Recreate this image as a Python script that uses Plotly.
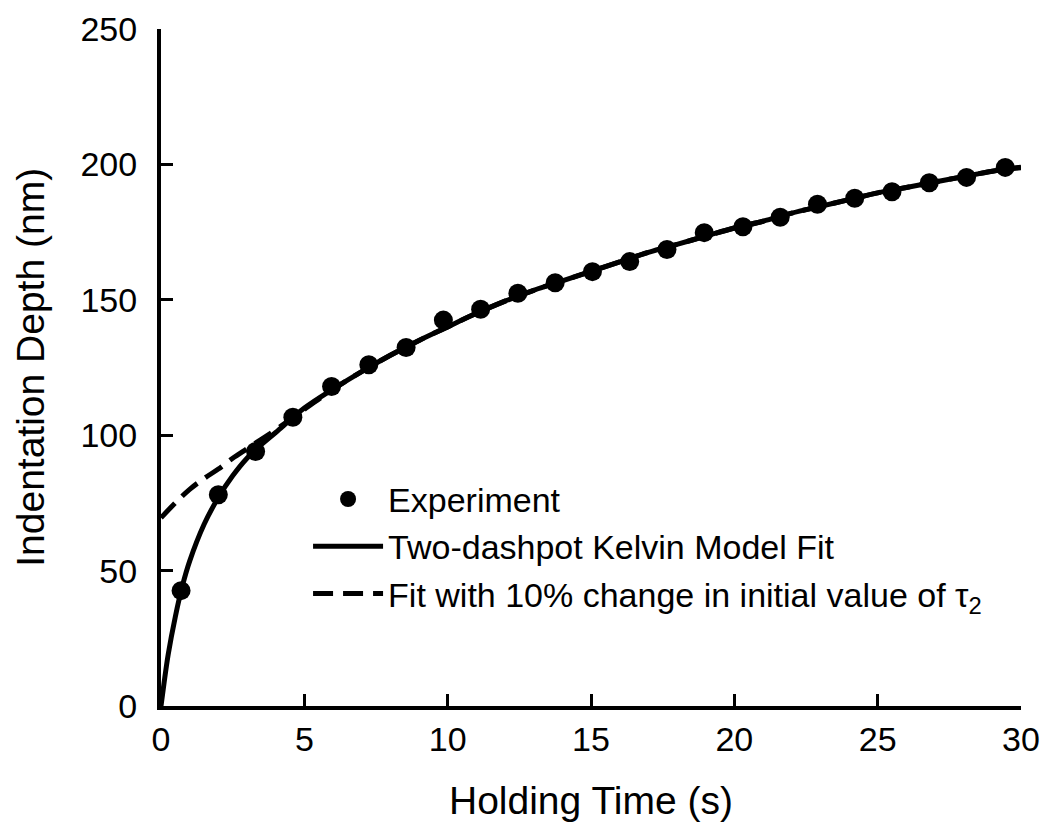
import plotly.graph_objects as go

# Experimental data (holding time s, indentation depth nm)
exp_t = [0.7, 2.0, 3.3, 4.6, 5.95, 7.25, 8.55, 9.85, 11.15, 12.45, 13.75, 15.05,
         16.35, 17.65, 18.95, 20.3, 21.6, 22.9, 24.2, 25.5, 26.8, 28.1, 29.45]
exp_d = [42.6, 78.0, 94.0, 106.6, 118.0, 126.0, 132.4, 142.5, 146.5, 152.4, 156.3, 160.4,
         164.1, 168.6, 174.8, 177.0, 180.5, 185.3, 187.5, 189.9, 193.2, 195.2, 198.9]

# Two-dashpot Kelvin model fit
fit_t = [0, 0.1, 0.25, 0.5, 0.75, 1.0, 1.5, 2.0, 2.5, 3.0, 3.5, 4.0, 5, 6, 7, 8, 9, 10,
         11, 12, 13, 14, 15, 16, 17, 18, 19, 20, 21, 22, 23, 24, 25, 26, 27, 28, 29, 30]
fit_d = [0, 8, 19, 33, 44.5, 53.5, 67, 77, 85, 91.5, 96.5, 101, 110, 117, 123.5, 129.5, 135, 140,
         145, 149.5, 153.5, 157, 160.5, 164, 167.5, 170.5, 173.5, 176.5, 179, 182, 184.5, 187,
         189.5, 191.5, 193.5, 195.5, 197.5, 199]

# Fit with 10% change in initial value of tau2
alt_t = [0, 0.5, 1.0, 1.5, 2.0, 2.5, 3.0, 3.5, 4.0, 5, 6, 7, 8, 9, 10,
         11, 12, 13, 14, 15, 16, 17, 18, 19, 20, 21, 22, 23, 24, 25, 26, 27, 28, 29, 30]
alt_d = [69.5, 75, 80, 84, 87.5, 91.5, 95, 98.5, 102, 109.5, 117, 123.5, 129.5, 135, 140,
         145, 149.5, 153.5, 157, 160.5, 164, 167.5, 170.5, 173.5, 176.5, 179, 182, 184.5, 187,
         189.5, 191.5, 193.5, 195.5, 197.5, 198.8]

x_ticks = [0, 5, 10, 15, 20, 25, 30]
y_ticks = [0, 50, 100, 150, 200, 250]

FONT = "Arial, Liberation Sans, sans-serif"

fig = go.Figure()
fig.add_trace(go.Scatter(x=exp_t, y=exp_d, mode="markers", name="Experiment",
                         marker=dict(color="black", size=19)))
fig.add_trace(go.Scatter(x=fit_t, y=fit_d, mode="lines", name="Two-dashpot Kelvin Model Fit",
                         line=dict(color="black", width=5, shape="spline")))
fig.add_trace(go.Scatter(x=alt_t, y=alt_d, mode="lines",
                         name="Fit with 10% change in initial value of τ<sub>2</sub>",
                         line=dict(color="black", width=5, dash="20px,10px", shape="spline")))

fig.update_layout(
    width=1042, height=832,
    margin=dict(l=153, r=29, t=21, b=134),
    paper_bgcolor="white", plot_bgcolor="white",
    font=dict(family=FONT, color="black"),
    showlegend=True,
    legend=dict(x=0.171, y=0.348, xanchor="left", yanchor="top", itemwidth=70,
                bgcolor="rgba(0,0,0,0)", font=dict(size=34, family=FONT, color="black")),
    xaxis=dict(range=[0, 30], tickvals=x_ticks, showline=True, linewidth=4, linecolor="black",
               ticks="inside", ticklen=12, tickwidth=3, tickcolor="black",
               showgrid=False, zeroline=False, tickfont=dict(size=34),
               ticklabelstandoff=0, automargin=False),
    yaxis=dict(range=[0, 250], tickvals=y_ticks, showline=True, linewidth=4, linecolor="black",
               ticks="inside", ticklen=12, tickwidth=3, tickcolor="black",
               showgrid=False, zeroline=False, tickfont=dict(size=34),
               ticklabelstandoff=13, automargin=False),
    annotations=[
        dict(text="Holding Time (s)", xref="paper", yref="paper", x=0.5, y=-0.139,
             xanchor="center", yanchor="middle", showarrow=False, font=dict(size=39)),
        dict(text="Indentation Depth (nm)", xref="paper", yref="paper", x=-0.152, y=0.5,
             xanchor="center", yanchor="middle", textangle=-90, showarrow=False,
             font=dict(size=39)),
    ],
)

fig.write_html("out.html")
